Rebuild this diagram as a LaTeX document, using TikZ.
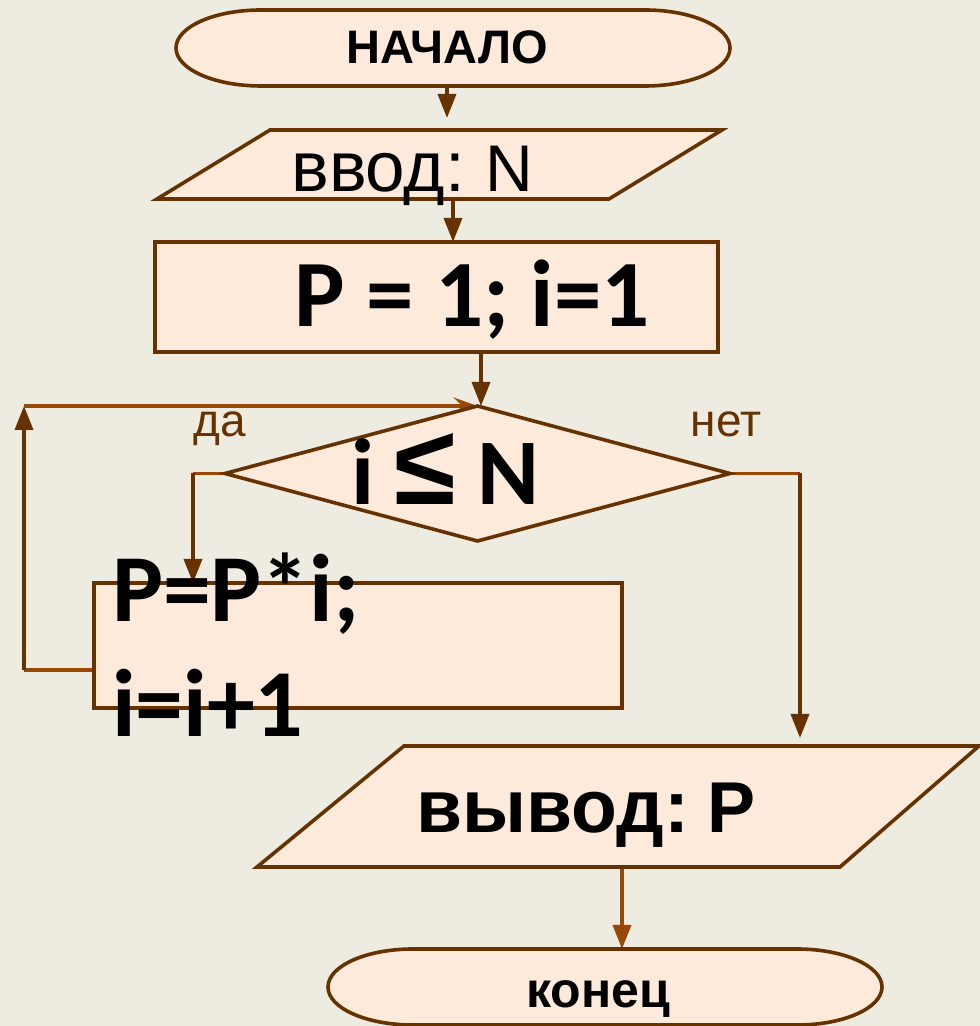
\documentclass[tikz,border=0pt]{standalone}
\usepackage{fontspec}
\usetikzlibrary{arrows.meta}
\newfontfamily\arialf{Liberation Sans}
\newfontfamily\calf{Carlito}

\definecolor{bgtan}{HTML}{EEECE1}
\definecolor{shapefill}{HTML}{FDEADA}
\definecolor{darkbrown}{HTML}{663300}
\definecolor{rustline}{HTML}{984807}

\tikzset{
  geom/.style={draw=none, inner sep=0pt, outer sep=0pt},
  shapeline/.style={draw=darkbrown, fill=shapefill, line width=3.6pt, line join=miter},
  flowline/.style={draw=darkbrown, line width=3.6pt},
  rustflow/.style={draw=rustline, line width=3.6pt},
  tri/.style={-{Triangle[length=24pt,width=18pt]}},
  swept/.style={-{Stealth[length=24pt,width=17pt,inset=9pt]}},
  txt/.style={inner sep=0pt, outer sep=0pt, text=black},
  arialbold/.style={txt, font=\arialf\bfseries\fontsize{#1}{#1}\selectfont},
  arialreg/.style={txt, font=\arialf\fontsize{#1}{#1}\selectfont},
  calbold/.style={txt, font=\calf\bfseries\fontsize{#1}{#1}\selectfont},
  branchlbl/.style={inner sep=0pt, outer sep=0pt, text=darkbrown, font=\arialf\fontsize{46}{46}\selectfont}
}

\begin{document}
\begin{tikzpicture}[x=1pt, y=1pt]
  % canvas
  \useasboundingbox (0,0) rectangle (980,1026);
  \fill[bgtan] (0,0) rectangle (980,1026);

  % block geometry
  \node[geom, minimum width=554pt, minimum height=76pt]  (start) at (453,978)   {};
  \node[geom, minimum width=565pt, minimum height=69pt]  (inp)   at (439.5,861.5) {};
  \node[geom, minimum width=563pt, minimum height=110pt] (proc)  at (436.5,729) {};
  \node[geom, minimum width=505pt, minimum height=135pt] (dec)   at (477.5,552.5) {};
  \node[geom, minimum width=528pt, minimum height=125pt] (body)  at (358,380.5) {};
  \node[geom, minimum width=722pt, minimum height=121pt] (outp)  at (618,219.5) {};
  \node[geom, minimum width=554pt, minimum height=76pt]  (stop)  at (605,39)    {};

  % elbow points of the branches
  \coordinate (yescorner) at (193,552.5);
  \coordinate (nocorner)  at (800,552.5);
  \coordinate (backlow)   at (24,356);
  \coordinate (backtop)   at (24,620);

  % connectors
  \draw[flowline, tri, shorten >=12pt] ([xshift=-6pt]start.south) -- ([xshift=-6pt]start.south |- inp.north);
  \draw[flowline, tri] ([xshift=13.5pt]inp.south) -- ([xshift=13.5pt]inp.south |- proc.north);
  \draw[flowline, tri] ([xshift=44.5pt]proc.south) -- ([xshift=44.5pt]proc.south |- dec.north);

  \draw[rustflow] (dec.west) -- (yescorner);
  \draw[flowline, tri] (yescorner) -- (yescorner |- body.north);

  \draw[rustflow] (body.west |- backlow) -- (backlow);
  \draw[flowline, tri] (backlow) -- (backtop);
  \draw[rustflow, swept] (backtop) -- (dec.north);

  \draw[rustflow] (dec.east) -- (nocorner);
  \draw[flowline, tri, shorten >=8pt] (nocorner) -- (nocorner |- outp.north);

  \draw[rustflow, tri] ([xshift=4pt]outp.south) -- ([xshift=4pt]outp.south |- stop.north);

  % block outlines
  \path[shapeline] ([xshift=85pt]start.north west) -- ([xshift=-85pt]start.north east)
    arc[start angle=90, end angle=-90, x radius=85pt, y radius=38pt]
    -- ([xshift=85pt]start.south west)
    arc[start angle=270, end angle=90, x radius=85pt, y radius=38pt] -- cycle;
  \path[shapeline] ([xshift=113pt]inp.north west) -- (inp.north east)
    -- ([xshift=-113pt]inp.south east) -- (inp.south west) -- cycle;
  \path[shapeline] (proc.north west) rectangle (proc.south east);
  \path[shapeline] (dec.north) -- (dec.east) -- (dec.south) -- (dec.west) -- cycle;
  \path[shapeline] (body.north west) rectangle (body.south east);
  \path[shapeline] ([xshift=147pt]outp.north west) -- (outp.north east)
    -- ([xshift=-139pt]outp.south east) -- (outp.south west) -- cycle;
  \path[shapeline] ([xshift=85pt]stop.north west) -- ([xshift=-85pt]stop.north east)
    arc[start angle=90, end angle=-90, x radius=85pt, y radius=38pt]
    -- ([xshift=85pt]stop.south west)
    arc[start angle=270, end angle=90, x radius=85pt, y radius=38pt] -- cycle;

  % texts
  \node[arialbold=47] (starttxt) at (447,979) {НАЧАЛО};
  \node[arialreg=71, anchor=base] (inptxt) at (412,834) {ввод:\hspace{20pt}{\fontsize{66}{66}\selectfont N}};
  \node[calbold=95, anchor=base] (proctxt) at (472,699) {P = 1; i=1};
  \node[calbold=94, anchor=base] (dectxt) at (445.5,521)
    {i\hspace{20pt}{\arialf\fontsize{112}{112}\selectfont ≤}\hspace{22pt}N};
  \node[calbold=96, anchor=base west] (bodyone) at (112,404) {P=P*i;};
  \node[calbold=96, anchor=base west] (bodytwo) at (112,289) {i=i+1};
  \node[arialbold=75, anchor=base] (outptxt) at (586,193) {вывод:\hspace{18pt}{\fontsize{72}{72}\selectfont P}};
  \node[arialbold=50, anchor=base] (stoptxt) at (598,18) {конец};

  \node[branchlbl, anchor=base] (yeslbl) at (220,589) {да};
  \node[branchlbl, anchor=base] (nolbl) at (726,589) {нет};
\end{tikzpicture}
\end{document}
